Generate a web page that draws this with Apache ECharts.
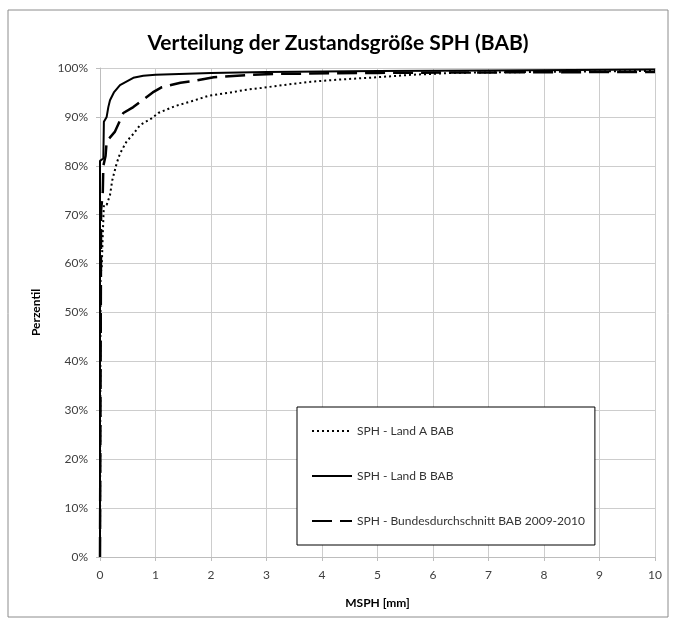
<!DOCTYPE html>
<html>
<head>
<meta charset="utf-8">
<script src="https://cdn.jsdelivr.net/npm/echarts@6/dist/echarts.min.js"></script>
<style>
  html, body { margin: 0; padding: 0; background: #ffffff; }
  #chart { width: 676px; height: 625px; }
</style>
</head>
<body>
<div id="chart"></div>
<script>
// Cumulative distribution of SPH values: [MSPH in mm, percentile in %]
const seriesNames = [
  'SPH - Land A BAB',
  'SPH - Land B BAB',
  'SPH - Bundesdurchschnitt BAB 2009-2010'
];

const landA = [
  [0, 0], [0.01, 58], [0.03, 59], [0.05, 66], [0.07, 72], [0.12, 72],
  [0.18, 74], [0.22, 77], [0.3, 80.5], [0.36, 82.5], [0.48, 85],
  [0.6, 86.5], [0.72, 88.3], [0.93, 89.7], [1.05, 90.8], [1.35, 92.2],
  [1.65, 93.2], [1.95, 94.3], [2.36, 95], [2.6, 95.5], [2.96, 96],
  [3.3, 96.5], [3.8, 97.2], [4.4, 97.7], [4.85, 98], [5.6, 98.6],
  [6.35, 99], [7, 99.1], [8, 99.2], [9, 99.3], [10, 99.4]
];

const landB = [
  [0, 0], [0, 81], [0.06, 81.5], [0.07, 89], [0.12, 90], [0.15, 92],
  [0.18, 93.4], [0.25, 95], [0.36, 96.5], [0.6, 98], [0.78, 98.4],
  [1, 98.6], [2, 99], [3, 99.2], [5, 99.4], [7, 99.5], [10, 99.7]
];

const bund = [
  [0, 0], [0.02, 71], [0.05, 74.5], [0.06, 80], [0.1, 82], [0.12, 85],
  [0.27, 87], [0.42, 90.8], [0.6, 92], [0.95, 95], [1.1, 96],
  [1.45, 97], [1.65, 97.3], [2.05, 98.1], [2.7, 98.6], [3.2, 98.8],
  [5, 99], [7, 99.1], [10, 99.2]
];

const FONT = 'Lato, "Open Sans", sans-serif';

const chart = echarts.init(document.getElementById('chart'), null, { renderer: 'canvas' });

chart.setOption({
  backgroundColor: '#ffffff',
  animation: false,
  title: {
    text: 'Verteilung der Zustandsgröße SPH (BAB)',
    left: 333,
    textAlign: 'center',
    top: 28,
    textStyle: { fontFamily: FONT, fontSize: 21, fontWeight: 'bold', color: '#000' }
  },
  graphic: [{
    type: 'rect',
    shape: { x: 8, y: 10, width: 660, height: 607 },
    style: { fill: 'none', stroke: '#8c8c8c', lineWidth: 1 },
    silent: true,
    z: -1
  }],
  grid: { left: 100, right: 21, top: 68, bottom: 68 },
  legend: {
    orient: 'vertical',
    left: 297,
    top: 407,
    width: 285,
    height: 135,
    padding: [18, 10, 18, 14],
    itemGap: 33,
    itemWidth: 40,
    itemHeight: 14,
    borderColor: '#000',
    borderWidth: 1,
    backgroundColor: '#fff',
    itemStyle: { opacity: 0 },
    data: seriesNames,
    textStyle: { fontFamily: FONT, fontSize: 12, color: '#333' }
  },
  xAxis: {
    type: 'value',
    min: 0, max: 10, interval: 1,
    name: 'MSPH [mm]',
    nameLocation: 'middle',
    nameGap: 40,
    nameTextStyle: { fontFamily: FONT, fontSize: 12, fontWeight: 'bold', color: '#000' },
    axisLine: { show: true, lineStyle: { color: '#bdbdbd' } },
    axisTick: { show: true, length: 4, lineStyle: { color: '#bdbdbd' } },
    axisLabel: { fontFamily: FONT, fontSize: 12, color: '#404040', margin: 12 },
    splitLine: { show: true, lineStyle: { color: '#cdcdcd', width: 1 } }
  },
  yAxis: {
    type: 'value',
    min: 0, max: 100, interval: 10,
    name: 'Perzentil',
    nameLocation: 'middle',
    nameGap: 58,
    nameRotate: 90,
    nameTextStyle: { fontFamily: FONT, fontSize: 12, fontWeight: 'bold', color: '#000' },
    axisLine: { show: true, lineStyle: { color: '#bdbdbd' } },
    axisTick: { show: true, length: 4, lineStyle: { color: '#bdbdbd' } },
    axisLabel: { fontFamily: FONT, fontSize: 12, color: '#404040', margin: 12, formatter: '{value}%' },
    splitLine: { show: true, lineStyle: { color: '#cdcdcd', width: 1 } }
  },
  series: [
    {
      name: seriesNames[0],
      type: 'line',
      data: landA,
      symbol: 'none',
      lineStyle: { color: '#000', width: 2, type: [2, 3] },
      itemStyle: { color: '#000' },
      z: 3
    },
    {
      name: seriesNames[1],
      type: 'line',
      data: landB,
      symbol: 'none',
      lineStyle: { color: '#000', width: 2, type: 'solid' },
      itemStyle: { color: '#000' },
      z: 4
    },
    {
      name: seriesNames[2],
      type: 'line',
      data: bund,
      symbol: 'none',
      lineStyle: { color: '#000', width: 2.5, type: [20, 8] },
      itemStyle: { color: '#000' },
      z: 3
    }
  ]
});
</script>
</body>
</html>
